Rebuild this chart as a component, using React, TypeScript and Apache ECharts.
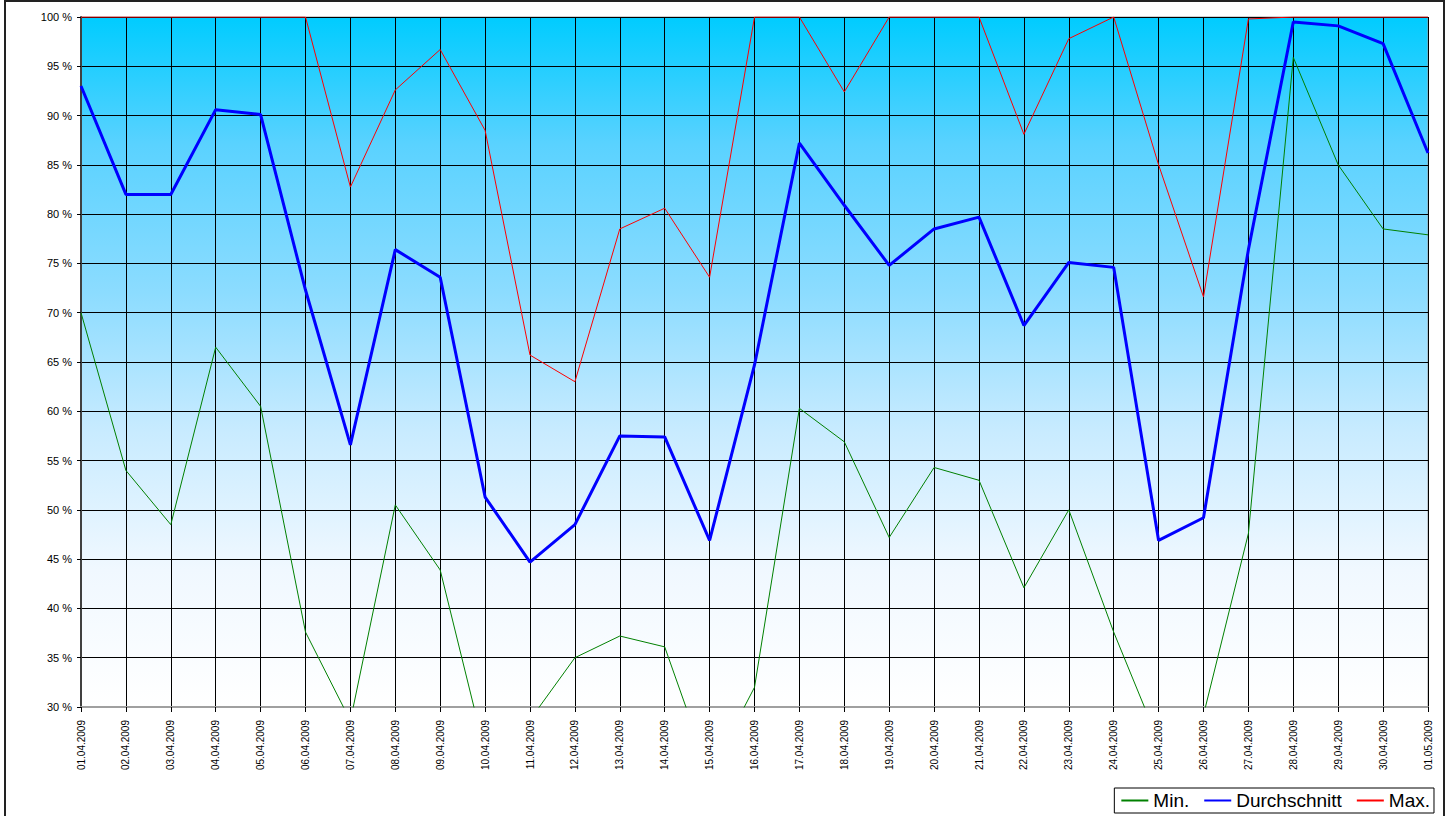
import React, { useEffect, useRef } from "react";
import * as echarts from "echarts";

const categories = [
  "01.04.2009", "02.04.2009", "03.04.2009", "04.04.2009", "05.04.2009", "06.04.2009",
  "07.04.2009", "08.04.2009", "09.04.2009", "10.04.2009", "11.04.2009", "12.04.2009",
  "13.04.2009", "14.04.2009", "15.04.2009", "16.04.2009", "17.04.2009", "18.04.2009",
  "19.04.2009", "20.04.2009", "21.04.2009", "22.04.2009", "23.04.2009", "24.04.2009",
  "25.04.2009", "26.04.2009", "27.04.2009", "28.04.2009", "29.04.2009", "30.04.2009",
  "01.05.2009",
];

const minValues = [
  70.0, 54.0, 48.5, 66.5, 60.5, 37.6, 28.6, 50.5, 43.9, 25.4, 28.7, 35.0,
  37.2, 36.1, 23.2, 32.0, 60.3, 56.9, 47.2, 54.3, 53.0, 42.1, 50.0, 37.6,
  26.5, 29.2, 47.6, 95.9, 85.0, 78.5, 77.9,
];

const avgValues = [
  93.0, 82.0, 82.0, 90.6, 90.1, 72.3, 56.6, 76.4, 73.6, 51.3, 44.7, 48.5,
  57.5, 57.4, 46.9, 64.7, 87.2, 80.9, 74.8, 78.5, 79.7, 68.7, 75.1, 74.6,
  46.9, 49.2, 76.4, 99.5, 99.1, 97.3, 86.2,
];

const maxValues = [
  100, 100, 100, 100, 100, 100, 82.75, 92.6, 96.7, 88.5, 65.7, 63.0,
  78.5, 80.6, 73.6, 100, 100, 92.4, 100, 100, 100, 88.1, 97.8, 100,
  85.0, 71.6, 99.8, 100, 100, 100, 100,
];

const yTicks = [30, 35, 40, 45, 50, 55, 60, 65, 70, 75, 80, 85, 90, 95, 100];

export default function App() {
  const ref = useRef<HTMLDivElement>(null);

  useEffect(() => {
    if (!ref.current) return;
    const chart = echarts.init(ref.current, null, { renderer: "svg" });
    const font = "Arial, 'Liberation Sans', sans-serif";
    chart.setOption({
      animation: false,
      backgroundColor: "#ffffff",
      textStyle: { fontFamily: font },
      grid: {
        left: 81,
        right: 24,
        top: 17,
        bottom: 109,
        show: true,
        borderWidth: 1,
        borderColor: "#a0a0a0",
        backgroundColor: new echarts.graphic.LinearGradient(0, 0, 0, 1, [
          { offset: 0, color: "#00CCFF" },
          { offset: 0.185, color: "#5AD2FF" },
          { offset: 0.4, color: "#8CDCFF" },
          { offset: 0.6, color: "#C8EBFF" },
          { offset: 0.8, color: "#F0F8FF" },
          { offset: 1, color: "#FFFFFF" },
        ]),
      },
      xAxis: {
        type: "category",
        data: categories,
        boundaryGap: false,
        axisLine: { show: true, lineStyle: { color: "#a0a0a0", width: 2 } },
        axisTick: { show: true, alignWithLabel: true, length: 5, lineStyle: { color: "#000" } },
        axisLabel: {
          rotate: 90,
          fontSize: 10,
          color: "#000",
          fontFamily: font,
          margin: 13,
          interval: 0,
        },
        splitLine: { show: true, lineStyle: { color: "#000", width: 1 } },
      },
      yAxis: {
        type: "value",
        min: 30,
        max: 100,
        interval: 5,
        axisLine: { show: true, lineStyle: { color: "#404040", width: 2 } },
        axisTick: { show: true, length: 4, lineStyle: { color: "#000" } },
        axisLabel: {
          fontSize: 11,
          color: "#000",
          fontFamily: font,
          margin: 9,
          formatter: (v: number) => (yTicks.includes(v) ? `${v} %` : ""),
        },
        splitLine: { show: true, lineStyle: { color: "#000", width: 1 } },
      },
      legend: {
        right: 18,
        bottom: 3,
        orient: "horizontal",
        backgroundColor: "#ffffff",
        borderColor: "#000",
        borderWidth: 1,
        borderRadius: 0,
        padding: [3, 4, 3, 6],
        itemWidth: 27,
        itemHeight: 14,
        itemGap: 14,
        itemStyle: { color: "rgba(0,0,0,0)", borderWidth: 0, opacity: 0 },
        textStyle: { fontSize: 19, color: "#000", fontFamily: font },
        data: ["Min.", "Durchschnitt", "Max."],
      },
      series: [
        {
          name: "Min.",
          type: "line",
          data: minValues,
          symbol: "none",
          clip: true,
          lineStyle: { color: "#008000", width: 1 },
          itemStyle: { color: "#008000" },
          z: 3,
        },
        {
          name: "Durchschnitt",
          type: "line",
          data: avgValues,
          symbol: "none",
          clip: true,
          lineStyle: { color: "#0000FF", width: 3 },
          itemStyle: { color: "#0000FF" },
          z: 4,
        },
        {
          name: "Max.",
          type: "line",
          data: maxValues,
          symbol: "none",
          clip: true,
          lineStyle: { color: "#FF0000", width: 1 },
          itemStyle: { color: "#FF0000" },
          z: 3,
        },
      ],
      graphic: [
        {
          type: "rect",
          shape: { x: 5, y: 1, width: 1439, height: 830 },
          style: { fill: "none", stroke: "#222", lineWidth: 2 },
          silent: true,
        },
      ],
    });
    return () => chart.dispose();
  }, []);

  return (
    <div
      ref={ref}
      style={{ position: "fixed", left: 0, top: 0, width: 1452, height: 816 }}
    />
  );
}
